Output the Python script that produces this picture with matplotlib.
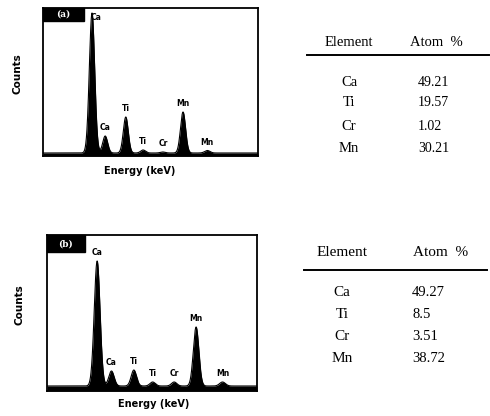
import numpy as np
import matplotlib
matplotlib.use('Agg')
import matplotlib.pyplot as plt
from matplotlib.patches import Rectangle

# EDS peaks (keV) and peak heights (counts, arbitrary) for the two samples
peak_names = ['Ca', 'Ca', 'Ti', 'Ti', 'Cr', 'Mn', 'Mn']
peak_energy = [3.69, 4.01, 4.51, 4.93, 5.41, 5.90, 6.49]
peak_sigma = [0.065, 0.06, 0.06, 0.06, 0.06, 0.062, 0.065]

counts_a = [140, 17, 36, 3, 1, 41, 2.5]
background_a = 3
counts_b = [125, 15, 16, 4, 4, 59, 4]
background_b = 5

# composition tables
elements = ['Ca', 'Ti', 'Cr', 'Mn']
atom_pct_a = ['49.21', '19.57', '1.02', '30.21']
atom_pct_b = ['49.27', '8.5', '3.51', '38.72']

W, H = 490, 416
fig = plt.figure(figsize=(W / 100, H / 100), dpi=100)


def px_axes(x0, y0, x1, y1):
    # axes from pixel box (top-left origin)
    return fig.add_axes([x0 / W, 1 - y1 / H, (x1 - x0) / W, (y1 - y0) / H])


def spectrum(ax, heights, bg, erange, ymax, tag, tag_w, tag_h):
    e = np.linspace(erange[0], erange[1], 3000)
    y = np.full_like(e, bg, dtype=float)
    for c, h, s in zip(peak_energy, heights, peak_sigma):
        y += h * np.exp(-0.5 * ((e - c) / s) ** 2)
    ax.fill_between(e, 0, y, color='black', lw=0)
    ax.plot(e, y, color='black', lw=0.8)
    ax.set_xlim(erange)
    ax.set_ylim(0, ymax)
    ax.set_xticks([])
    ax.set_yticks([])
    for sp in ax.spines.values():
        sp.set_linewidth(1.3)
    # peak labels
    for name, c, h in zip(peak_names, peak_energy, heights):
        top = h + bg
        if top + 10 > ymax:
            off = (3, -3)
        else:
            off = (0, 6)
        ax.annotate(name, (c, top), xytext=off, textcoords='offset points',
                    ha='center', va='center', fontsize=5.5, fontweight='bold',
                    family='DejaVu Sans')
    # panel tag in a black box
    ax.add_patch(Rectangle((0, 1 - tag_h), tag_w, tag_h, transform=ax.transAxes,
                           fc='black', ec='black', clip_on=False, zorder=5))
    ax.text(tag_w / 2, 1 - tag_h / 2, tag, transform=ax.transAxes, ha='center',
            va='center', fontsize=6.5, color='white', fontweight='bold',
            family='DejaVu Serif', zorder=6)


ax_a = px_axes(43, 8, 258, 156)
spectrum(ax_a, counts_a, background_a, (2.50, 7.72), 148, '(a)', 0.19, 0.085)
ax_b = px_axes(47, 235, 257, 391)
spectrum(ax_b, counts_b, background_b, (2.57, 7.26), 156, '(b)', 0.18, 0.11)

# overlay in pixel coordinates for labels and tables
ov = fig.add_axes([0, 0, 1, 1])
ov.set_xlim(0, W)
ov.set_ylim(H, 0)
ov.axis('off')

for x, y in [(17, 74), (19, 305)]:
    ov.text(x, y, 'Counts', rotation=90, ha='center', va='center',
            fontsize=7.5, fontweight='bold', family='Liberation Sans Narrow')
for x, y in [(140, 171), (154, 404)]:
    ov.text(x, y, 'Energy (keV)', ha='center', va='center',
            fontsize=7, fontweight='bold', family='DejaVu Sans')


def table(x_el, x_val, x_hdr, y_hdr, y_line, x_line, rows_y, vals, fs):
    ov.text(x_el, y_hdr, 'Element', ha='center', va='center', fontsize=fs,
            family='Liberation Serif')
    ov.text(x_hdr, y_hdr, 'Atom  %', ha='left', va='center', fontsize=fs,
            family='Liberation Serif')
    ov.plot(x_line, [y_line, y_line], color='black', lw=1.4)
    for el, v, y in zip(elements, vals, rows_y):
        ov.text(x_el, y, el, ha='center', va='center', fontsize=fs,
                family='Liberation Serif')
        ov.text(x_val, y, v, ha='left', va='center', fontsize=fs - 0.5,
                family='Liberation Serif')


table(349, 418, 410, 42, 55, [307, 489], [82, 103, 127, 148], atom_pct_a, 10.5)
table(342, 412, 413, 253, 270, [304, 487], [293, 314, 337, 358], atom_pct_b, 11)

fig.savefig('out.png', dpi=100)
